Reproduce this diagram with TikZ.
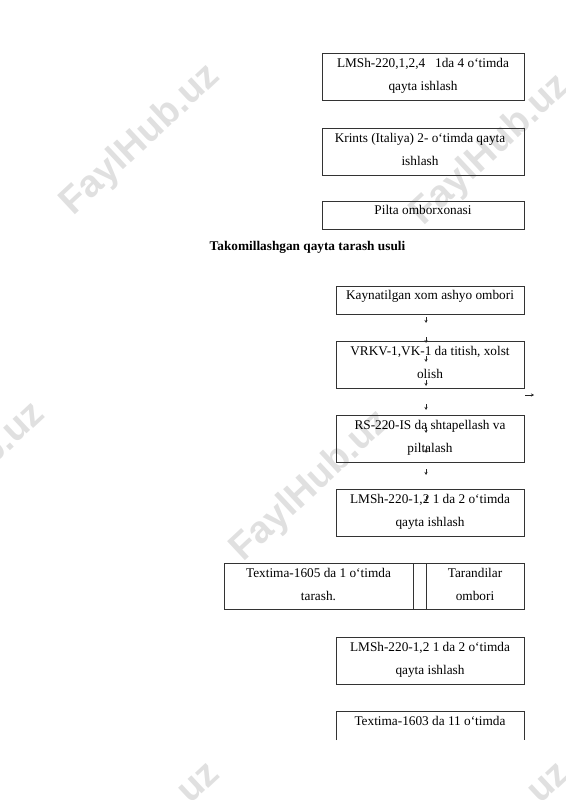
\documentclass[tikz,border=0pt]{standalone}
\usepackage{fontspec}
\setmainfont{Liberation Serif}
\newfontfamily\wmfont{Liberation Sans}
\usetikzlibrary{arrows.meta,fit}
\newcommand\mytwo[2]{\begin{tabular}[t]{@{}c@{}}#1\\#2\end{tabular}}
\begin{document}
\begin{tikzpicture}[x=1.0536pt,y=-1.0536pt,
  box/.style={draw=black!80, line width=0.6pt, inner sep=0pt},
  txt/.style={anchor=base, inner sep=0pt, font=\fontsize{14pt}{24.2pt}\selectfont},
  ttl/.style={anchor=base, inner sep=0pt, font=\fontsize{14pt}{24.2pt}\selectfont\bfseries},
  wm/.style={rotate=43, text=black!12, inner sep=0pt, font={\wmfont\fontsize{40pt}{40pt}\selectfont\bfseries}},
  tinyarr/.style={-{Stealth[length=3.2pt,width=3.2pt]}, line width=0.6pt, draw=black!85}]
\useasboundingbox (0,0) rectangle (565,800);
% watermarks
\begin{scope}
\clip (0,0) rectangle (565,800);
\node[wm] (wm1) at (141,140) {FaylHub.uz};
\node[wm] (wm2) at (491,150) {FaylHub.uz};
\node[wm] (wm3) at (-34,478) {FaylHub.uz};
\node[wm] (wm4) at (311,486) {FaylHub.uz};
\node[wm] (wm5) at (141,838) {FaylHub.uz};
\node[wm] (wm6) at (491,838) {FaylHub.uz};
\end{scope}
% upper boxes
\node[box, fit={(322,53) (524,100)}] (b1) {};
\node[txt] (t1) at (423,67.5) {\mytwo{LMSh-220,1,2,4\ \ \ 1da 4 o`timda}{qayta ishlash}};
\node[box, fit={(322,128) (524,175)}] (b2) {};
\node[txt] (t2) at (420,142.5) {\mytwo{Krints (Italiya) 2- o`timda qayta}{ishlash}};
\node[box, fit={(322,201) (524,229)}] (b3) {};
\node[txt] (t3) at (423,214.5) {Pilta omborxonasi};
% title
\node[ttl] (title) at (307.5,250.7) {Takomillashgan qayta tarash usuli};
% lower chain
\node[box, fit={(336,286) (524,314)}] (b4) {};
\node[txt] (t4) at (430,299.5) {Kaynatilgan xom ashyo ombori};
\node[box, fit={(336,341) (524,388)}] (b5) {};
\node[txt] (t5) at (430,355.5) {\mytwo{VRKV-1,VK-1 da titish, xolst}{olish}};
\node[box, fit={(336,415) (524,462)}] (b6) {};
\node[txt] (t6) at (430,429.5) {\mytwo{RS-220-IS da shtapellash va}{piltalash}};
\node[box, fit={(336,489) (524,536)}] (b7) {};
\node[txt] (t7) at (430,503.5) {\mytwo{LMSh-220-1,2 1 da 2 o`timda}{qayta ishlash}};
\node[box, fit={(224,563) (413,609)}] (b8) {};
\node[txt] (t8) at (318.5,577.5) {\mytwo{Textima-1605 da 1 o`timda}{tarash.}};
\node[box, fit={(413,563) (426,609)}] (gap) {};
\node[box, fit={(426,563) (524,609)}] (b9) {};
\node[txt] (t9) at (475,577.5) {\mytwo{Tarandilar}{ombori}};
\node[box, fit={(336,637) (524,684)}] (b10) {};
\node[txt] (t10) at (430,651.5) {\mytwo{LMSh-220-1,2 1 da 2 o`timda}{qayta ishlash}};
\node[inner sep=0pt, fit={(336,711) (524,740)}] (b11) {};
\draw[draw=black!80, line width=0.6pt] (b11.south west) -- (b11.north west) -- (b11.north east) -- (b11.south east);
\node[txt] (t11) at (430,725) {Textima-1603 da 11 o`timda};
% tiny arrows
\foreach \i/\a/\b in {1/317/323, 2/337/343, 3/356/362, 4/380/386, 5/404/410, 6/427/433, 7/447/453, 8/469/475, 9/496/502} {
  \coordinate (s\i) at (426,\a);
  \coordinate (e\i) at (426,\b);
  \draw[tinyarr] (s\i) -- (e\i);
}
\coordinate (rs) at (525,395);
\coordinate (re) at (534,395);
\draw[tinyarr] (rs) -- (re);
\end{tikzpicture}
\end{document}
